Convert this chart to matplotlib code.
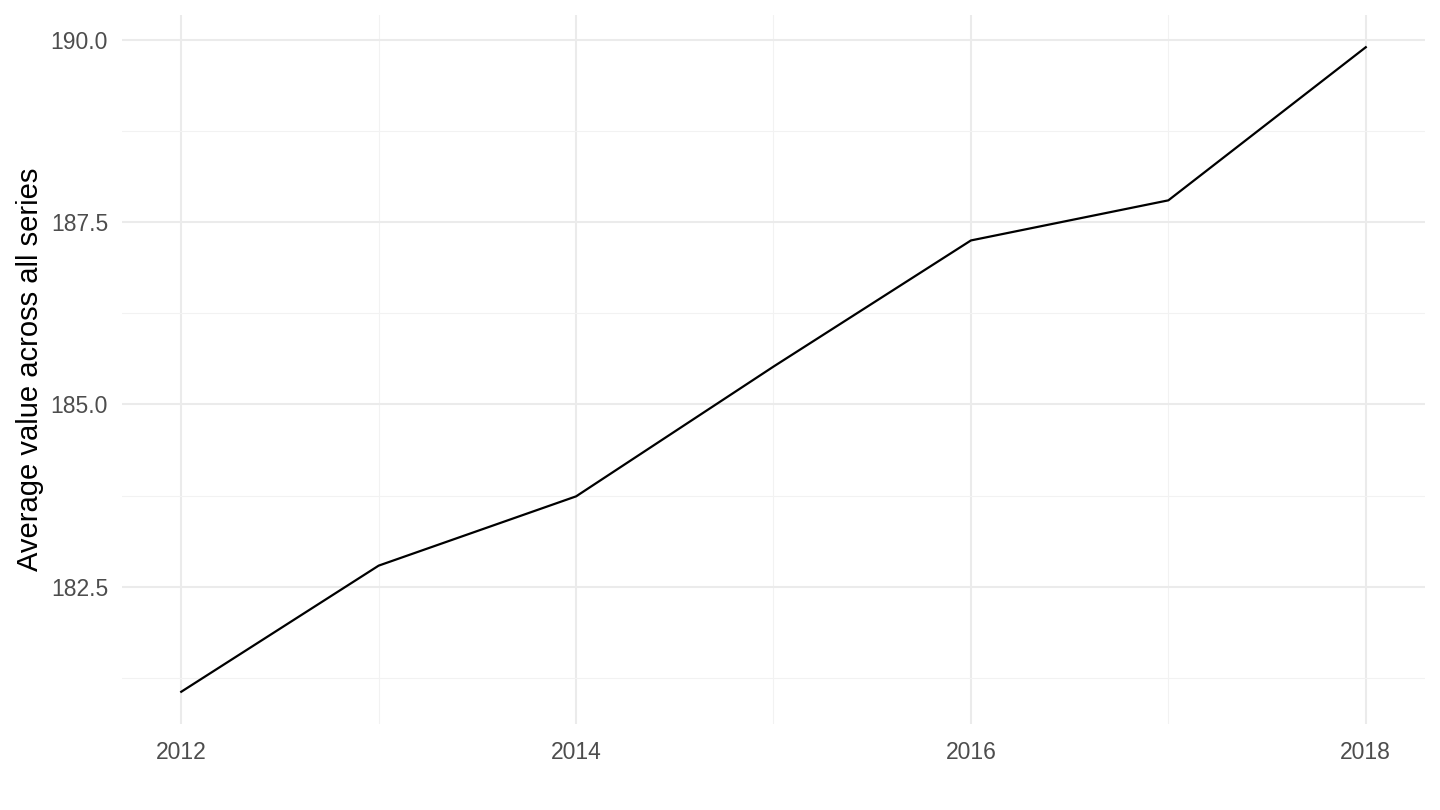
import matplotlib
matplotlib.use("Agg")
import matplotlib.pyplot as plt
from matplotlib.ticker import MultipleLocator, FormatStrFormatter

years = [2012, 2013, 2014, 2015, 2016, 2017, 2018]
values = [181.06, 182.79, 183.74, 185.52, 187.25, 187.80, 189.90]

plt.rcParams["font.family"] = ["Liberation Sans", "DejaVu Sans"]

fig = plt.figure(figsize=(14.4, 8.1), dpi=100)
ax = fig.add_axes([122 / 1440, 86 / 810, (1425 - 122) / 1440, (724 - 15) / 810])

ax.plot(years, values, color="black", linewidth=1.6, zorder=3)

pad_x = 0.05 * (max(years) - min(years))
pad_y = 0.05 * (max(values) - min(values))
ax.set_xlim(min(years) - pad_x, max(years) + pad_x)
ax.set_ylim(min(values) - pad_y, max(values) + pad_y)

ax.xaxis.set_major_locator(MultipleLocator(2))
ax.xaxis.set_minor_locator(MultipleLocator(1))
ax.yaxis.set_major_locator(MultipleLocator(2.5))
ax.yaxis.set_minor_locator(MultipleLocator(1.25))
ax.yaxis.set_major_formatter(FormatStrFormatter("%.1f"))

ax.grid(which="major", color="#EBEBEB", linewidth=1.5, zorder=0)
ax.grid(which="minor", color="#F2F2F2", linewidth=0.8, zorder=0)
ax.set_axisbelow(True)

for s in ax.spines.values():
    s.set_visible(False)
ax.tick_params(which="both", length=0)
ax.tick_params(axis="both", labelsize=16.5, labelcolor="#4D4D4D")
ax.tick_params(axis="x", pad=12)
ax.tick_params(axis="y", pad=10)

ax.set_ylabel("Average value across all series", fontsize=21, color="black", labelpad=5)

fig.savefig("out.png", dpi=100)
